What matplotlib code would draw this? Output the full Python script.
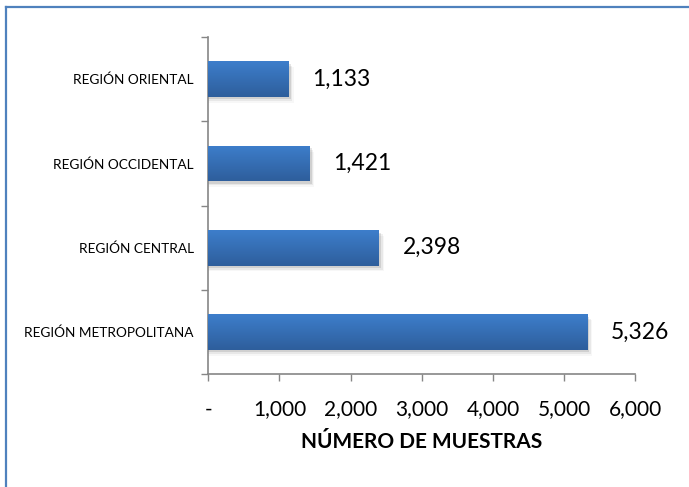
import numpy as np
import matplotlib
matplotlib.use("Agg")
from matplotlib import pyplot as plt
from matplotlib.patches import Rectangle
from matplotlib.lines import Line2D

regions = ["REGIÓN METROPOLITANA", "REGIÓN CENTRAL", "REGIÓN OCCIDENTAL", "REGIÓN ORIENTAL"]
samples = [5326, 2398, 1421, 1133]
x_ticks = [0, 1000, 2000, 3000, 4000, 5000, 6000]
x_tick_labels = ["-", "1,000", "2,000", "3,000", "4,000", "5,000", "6,000"]

plt.rcParams['font.family'] = ['Lato', 'DejaVu Sans']

W, H = 689, 487
fig = plt.figure(figsize=(W / 100, H / 100), dpi=100)
ax = fig.add_axes([208.3 / W, 1 - 374.3 / H, (635.3 - 208.3) / W, (374.3 - 37) / H])

y = np.arange(len(regions))
bar_h = 0.42
ax.set_xlim(0, 6000)
ax.set_ylim(-0.5, len(regions) - 0.5)

# vertical gradient from light blue (top) to darker blue (bottom)
top = np.array([0x3D, 0x7E, 0xCB]) / 255
bot = np.array([0x2E, 0x5E, 0x9C]) / 255
grad = np.linspace(0, 1, 64)[:, None]
img = bot[None, None, :] * (1 - grad[..., None]) + top[None, None, :] * grad[..., None]
img = np.repeat(img, 2, axis=1)

for yi, v in zip(y, samples):
    # soft shadow
    for k, a in enumerate([0.10, 0.06, 0.03]):
        off = 30 + k * 20
        sh = Rectangle((0, yi - bar_h / 2 - 0.03 - k * 0.02), v + off, bar_h,
                       facecolor="black", edgecolor="none", alpha=a, zorder=1)
        ax.add_patch(sh)
    bar = ax.barh(yi, v, height=bar_h, color=top, zorder=2)[0]
    im = ax.imshow(img, extent=[0, v, yi - bar_h / 2, yi + bar_h / 2],
                   aspect="auto", origin="lower", zorder=3, interpolation="bilinear")
    im.set_clip_path(bar)
    ax.annotate(f"{v:,}", xy=(v, yi), xytext=(17, 0), textcoords="offset points",
                va="center", ha="left", fontsize=16.5, color="black")

ax.set_xticks(x_ticks)
ax.set_xticklabels(x_tick_labels, fontsize=15)
ax.tick_params(axis="x", direction="out", length=5, width=1, color="#868686", pad=13)

ax.set_yticks(np.arange(-0.5, len(regions), 1.0))
ax.set_yticklabels([])
ax.tick_params(axis="y", direction="out", length=5, width=1, color="#868686")
ax.set_yticks(y, minor=True)
ax.set_yticklabels(regions, minor=True, fontsize=9.8)
ax.tick_params(axis="y", which="minor", length=0, pad=10.5)

for s in ["top", "right"]:
    ax.spines[s].set_visible(False)
for s in ["left", "bottom"]:
    ax.spines[s].set_color("#868686")
    ax.spines[s].set_linewidth(1.2)

ax.set_xlabel("NÚMERO DE MUESTRAS", fontsize=15, fontweight="bold", labelpad=9)

# chart frame (only left and top edges visible)
fig.add_artist(Line2D([6 / W, 6 / W], [0, 1 - 7 / H], color="#4F81BD", lw=1.6))
fig.add_artist(Line2D([6 / W, 1], [1 - 7 / H, 1 - 7 / H], color="#4F81BD", lw=1.6))

fig.savefig("out.png", dpi=100)
